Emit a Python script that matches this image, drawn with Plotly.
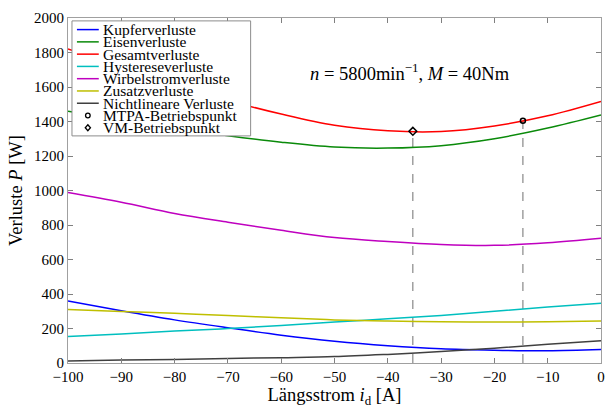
import plotly.graph_objects as go

# ---------------- data ----------------
i_d = [-100, -90, -80, -70, -60, -50, -40, -30, -20, -10, 0]

kupfer     = [360, 303, 250, 204, 161, 126, 100, 82, 74, 71, 78]
eisen      = [1460, 1412, 1362, 1318, 1280, 1252, 1246, 1260, 1300, 1362, 1438]
gesamt     = [1820, 1715, 1612, 1522, 1443, 1378, 1346, 1342, 1374, 1433, 1516]
hysterese  = [153, 168, 185, 200, 218, 238, 256, 276, 300, 325, 347]
wirbel     = [988, 932, 867, 816, 769, 727, 704, 687, 682, 697, 723]
zusatz     = [310, 299, 288, 275, 262, 250, 243, 239, 237, 239, 243]
nichtlin   = [11, 17, 21, 26, 31, 37, 50, 66, 86, 108, 129]

mtpa_x, mtpa_y = [-14.65], [1404]
vm_x, vm_y = [-35.3], [1343]

series_names = ["Kupferverluste", "Eisenverluste", "Gesamtverluste",
                "Hystereseverluste", "Wirbelstromverluste", "Zusatzverluste",
                "Nichtlineare Verluste"]
series_vals = [kupfer, eisen, gesamt, hysterese, wirbel, zusatz, nichtlin]
colors = ["#0000ff", "#0a8a0a", "#ff0000", "#00bfbf", "#bf00bf", "#bfbf00", "#404040"]

x_ticks = list(range(-100, 1, 10))
y_ticks = list(range(0, 2001, 200))

FONT = "Liberation Serif"

fig = go.Figure()

# dashed guide lines from operating points down to the axis
for px, py in [(vm_x[0], vm_y[0]), (mtpa_x[0], mtpa_y[0])]:
    fig.add_trace(go.Scatter(x=[px, px], y=[0, py], mode="lines",
                             line=dict(color="#707070", width=1, dash="dash"),
                             showlegend=False, hoverinfo="skip"))

for name, vals, col in zip(series_names, series_vals, colors):
    fig.add_trace(go.Scatter(x=i_d, y=vals, mode="lines", name=name,
                             line=dict(color=col, width=1.5, shape="spline", smoothing=1.0),
                             showlegend=False))

fig.add_trace(go.Scatter(x=mtpa_x, y=mtpa_y, mode="markers", name="MTPA-Betriebspunkt",
                         marker=dict(symbol="circle-open", size=5, color="black",
                                     line=dict(width=1.5, color="black")),
                         showlegend=False))
fig.add_trace(go.Scatter(x=vm_x, y=vm_y, mode="markers", name="VM-Betriebspunkt",
                         marker=dict(symbol="diamond-open", size=6, color="black",
                                     line=dict(width=1.5, color="black")),
                         showlegend=False))

# ---------------- manual compact legend ----------------
L, R, T, B = 68, 605, 12, 369
W, H = R - L, B - T
def px2x(p):
    return (p - L) / W
def py2y(p):
    return (B - p) / H

shapes = []
annotations = []
shapes.append(dict(type="rect", xref="paper", yref="paper",
                   x0=px2x(72), x1=px2x(252), y0=py2y(134), y1=py2y(15),
                   line=dict(color="#8c8c8c", width=1), fillcolor="white", layer="above"))
legend_labels = series_names + ["MTPA-Betriebspunkt", "VM-Betriebspunkt"]
row0, step = 24, 12.7
for k, lab in enumerate(legend_labels):
    yy = py2y(row0 + k * step)
    if k < len(colors):
        shapes.append(dict(type="line", xref="paper", yref="paper",
                           x0=px2x(77), x1=px2x(99), y0=yy, y1=yy,
                           line=dict(color=colors[k], width=1.5), layer="above"))
    elif lab.startswith("MTPA"):
        shapes.append(dict(type="circle", xref="paper", yref="paper",
                           xsizemode="pixel", ysizemode="pixel",
                           xanchor=px2x(88), yanchor=yy,
                           x0=-2.3, x1=2.3, y0=-2.3, y1=2.3,
                           line=dict(color="black", width=1.3), layer="above"))
    else:
        shapes.append(dict(type="path", xref="paper", yref="paper",
                           xsizemode="pixel", ysizemode="pixel",
                           xanchor=px2x(88), yanchor=yy,
                           path="M 0 3 L 2.6 0 L 0 -3 L -2.6 0 Z",
                           line=dict(color="black", width=1.3), layer="above"))
    annotations.append(dict(xref="paper", yref="paper", x=px2x(101), y=yy,
                            xanchor="left", yanchor="middle", showarrow=False,
                            text=lab, font=dict(family=FONT, size=15.5, color="black")))

annotations.append(dict(xref="x", yref="y", x=-54.9, y=1685, xanchor="left", yanchor="middle",
                        showarrow=False,
                        text="<i>n</i> = 5800min<sup>−1</sup>, <i>M</i> = 40Nm",
                        font=dict(family=FONT, size=18.5, color="black")))

fig.update_layout(
    width=615, height=410,
    margin=dict(l=L, r=615 - R, t=T, b=410 - B),
    plot_bgcolor="white", paper_bgcolor="white",
    font=dict(family=FONT, size=15, color="black"),
    shapes=shapes, annotations=annotations,
    showlegend=False,
)
fig.update_xaxes(range=[-100, 0], tickvals=x_ticks, ticks="inside", ticklen=5,
                 tickcolor="#808080", showline=True, linecolor="#a0a0a0", linewidth=1.2,
                 mirror="ticks", showgrid=False, zeroline=False,
                 tickfont=dict(family=FONT, size=15),
                 title=dict(text="Längsstrom <i>i</i><sub>d</sub> [A]",
                            font=dict(family=FONT, size=18.5), standoff=2))
fig.update_yaxes(range=[0, 2000], tickvals=y_ticks, ticks="inside", ticklen=5,
                 tickcolor="#808080", showline=True, linecolor="#a0a0a0", linewidth=1.2,
                 mirror="ticks", showgrid=False, zeroline=False,
                 tickfont=dict(family=FONT, size=15),
                 title=dict(text="Verluste <i>P</i> [W]",
                            font=dict(family=FONT, size=18.5), standoff=6))

fig.write_html("out.html")
